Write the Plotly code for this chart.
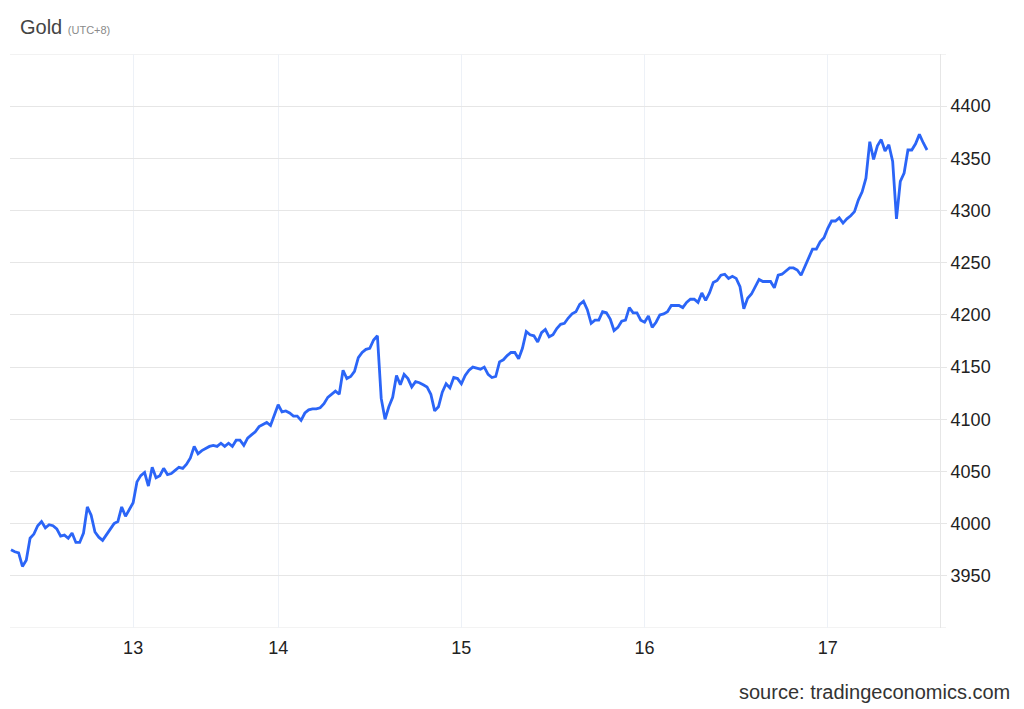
import numpy as np
import plotly.graph_objects as go

# Gold price, 30-minute samples (trading-time index; gaps removed)
gold_prices = [
    3975, 3973, 3972, 3959, 3965, 3986, 3990, 3998, 4002, 3996,
    3999, 3998, 3995, 3988, 3989, 3986, 3991, 3982, 3982, 3991,
    4016, 4008, 3992, 3987, 3984, 3989, 3994, 4000, 4002, 4016,
    4007, 4013, 4020, 4040, 4046, 4049, 4036, 4054, 4044, 4046,
    4053, 4047, 4048, 4051, 4054, 4053, 4057, 4063, 4074, 4067,
    4070, 4072, 4074, 4075, 4074, 4077, 4074, 4077, 4074, 4080,
    4080, 4075, 4082, 4085, 4088, 4093, 4095, 4097, 4094, 4105,
    4114, 4107, 4108, 4106, 4103, 4103, 4099, 4106, 4109, 4110,
    4110, 4111, 4115, 4121, 4124, 4127, 4124, 4147, 4139, 4141,
    4146, 4159, 4164, 4167, 4168, 4176, 4180, 4120, 4100, 4112,
    4121, 4142, 4133, 4143, 4139, 4131, 4136, 4135, 4133, 4131,
    4124, 4108, 4112, 4126, 4134, 4130, 4140, 4139, 4134, 4142,
    4147, 4150, 4149, 4148, 4150, 4143, 4140, 4141, 4155, 4157,
    4161, 4164, 4164, 4158, 4168, 4184, 4181, 4180, 4174, 4183,
    4186, 4179, 4181, 4187, 4191, 4192, 4197, 4201, 4203, 4210,
    4213, 4205, 4192, 4195, 4195, 4203, 4202, 4196, 4185, 4188,
    4194, 4195, 4207, 4202, 4202, 4195, 4193, 4199, 4188, 4193,
    4200, 4201, 4203, 4209, 4209, 4209, 4207, 4212, 4215, 4215,
    4212, 4221, 4214, 4221, 4231, 4233, 4238, 4239, 4235, 4237,
    4235, 4227, 4206, 4216, 4220, 4227, 4234, 4232, 4232, 4232,
    4226, 4238, 4239, 4242, 4245, 4245, 4243, 4238, 4246, 4254,
    4263, 4263, 4270, 4274, 4283, 4290, 4290, 4293, 4288, 4292,
    4295, 4299, 4310, 4318, 4331, 4366, 4349, 4362, 4368, 4357,
    4363, 4347, 4292, 4328, 4336, 4358, 4358, 4364, 4373, 4365,
    4358,
]

# Day labels and the sample index at which each day starts
day_labels = ["13", "14", "15", "16", "17"]
day_start_index = [32, 70, 118, 166, 214]

y_tick_values = [3950, 4000, 4050, 4100, 4150, 4200, 4250, 4300, 4350, 4400]
y_bounds = [3900, 4450]

x_index = np.arange(len(gold_prices))

fig = go.Figure()
fig.add_trace(go.Scatter(
    x=x_index,
    y=gold_prices,
    mode="lines",
    line=dict(color="#2b65f7", width=2.8),
    hoverinfo="skip",
    showlegend=False,
))

grid_h = "#e6e6e6"
grid_v = "#edf1f7"

# frame lines at top and bottom of the value range (with small tick stub)
shapes = []
for yb in y_bounds:
    shapes.append(dict(
        type="line", xref="paper", yref="y",
        x0=0, x1=1 + 6 / 930, y0=yb, y1=yb,
        line=dict(color=grid_h, width=1), layer="below",
    ))

fig.update_layout(
    width=1024,
    height=709,
    margin=dict(l=10, r=84, t=54, b=81),
    paper_bgcolor="white",
    plot_bgcolor="white",
    font=dict(family="Liberation Sans, Arial, sans-serif", color="#222222", size=18),
    shapes=shapes,
    xaxis=dict(
        range=[-0.26, 243.4],
        tickmode="array",
        tickvals=day_start_index,
        ticktext=day_labels,
        showgrid=True,
        gridcolor=grid_v,
        gridwidth=1,
        zeroline=False,
        showline=False,
        ticks="outside",
        ticklen=3,
        tickcolor="rgba(0,0,0,0)",
        tickfont=dict(size=18, color="#222222"),
    ),
    yaxis=dict(
        side="right",
        range=y_bounds,
        tickmode="array",
        tickvals=y_tick_values,
        ticktext=[str(v) for v in y_tick_values],
        showgrid=True,
        gridcolor=grid_h,
        gridwidth=1,
        zeroline=False,
        showline=True,
        linecolor=grid_h,
        linewidth=1,
        ticks="outside",
        ticklen=6,
        tickcolor=grid_h,
        tickfont=dict(size=18, color="#222222"),
    ),
    annotations=[
        dict(
            text="Gold <span style='font-size:11px;color:#8a8a8a'>(UTC+8)</span>",
            xref="paper", yref="paper",
            x=0.0, y=1.0,
            xanchor="left", yanchor="bottom",
            xshift=8, yshift=14,
            showarrow=False,
            font=dict(size=20, color="#444444"),
        ),
        dict(
            text="source: tradingeconomics.com",
            xref="paper", yref="paper",
            x=1.0, y=0.0,
            xanchor="right", yanchor="top",
            xshift=72, yshift=-51,
            showarrow=False,
            font=dict(size=20, color="#333333"),
        ),
    ],
)

fig.write_html(
    "out.html",
    config={"displayModeBar": False},
    post_script="document.body.style.margin='0';document.body.style.overflow='hidden';",
)
